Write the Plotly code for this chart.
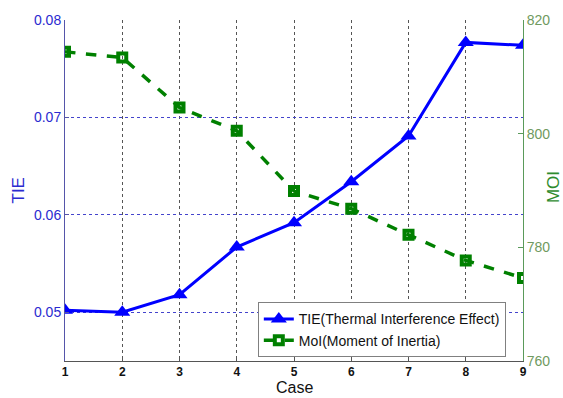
import plotly.graph_objects as go

cases = [1, 2, 3, 4, 5, 6, 7, 8, 9]
tie = [0.0502, 0.0500, 0.0518, 0.0567, 0.0592, 0.0634, 0.0681, 0.0777, 0.0774]
moi = [814.4, 813.4, 804.6, 800.5, 789.9, 786.8, 782.2, 777.7, 774.6]
tie_ticks = [0.05, 0.06, 0.07, 0.08]
moi_ticks = [760, 780, 800, 820]

FONT = "Arial, Liberation Sans, sans-serif"

fig = go.Figure()
fig.add_trace(go.Scatter(
    x=cases, y=tie, name="TIE(Thermal Interference Effect)",
    mode="lines+markers",
    line=dict(color="#0000ff", width=3),
    marker=dict(symbol="triangle-up", size=14, color="#0000ff"),
))
fig.add_trace(go.Scatter(
    x=cases, y=moi, name="MoI(Moment of Inertia)", yaxis="y2",
    mode="lines+markers",
    line=dict(color="#008000", width=3.5, dash="dash"),
    marker=dict(symbol="square-open", size=8, color="#008000",
                line=dict(color="#008000", width=4)),
))

fig.update_layout(
    width=563, height=398,
    margin=dict(l=65, r=40, t=16, b=37),
    paper_bgcolor="white", plot_bgcolor="white",
    font=dict(family=FONT),
    showlegend=True,
    legend=dict(
        x=0.421, y=0.172, xanchor="left", yanchor="top",
        bgcolor="white", bordercolor="#808080", borderwidth=1,
        font=dict(size=14, color="#111111", family=FONT),
        tracegroupgap=0,
    ),
    xaxis=dict(
        range=[1, 9], tickvals=cases, ticktext=["<b>%d</b>" % c for c in cases],
        showgrid=True, gridcolor="#555555", griddash="dot", gridwidth=1,
        showline=True, linecolor="#555555", linewidth=1,
        ticks="inside", ticklen=4, tickcolor="#555555",
        tickfont=dict(size=12, color="#111111", family=FONT),
        zeroline=False,
    ),
    yaxis=dict(
        range=[0.045, 0.08], tickvals=tie_ticks,
        ticktext=["0.05", "0.06", "0.07", "0.08"],
        showgrid=True, gridcolor="#4444cc", griddash="dot", gridwidth=1,
        showline=True, linecolor="#5555aa", linewidth=1,
        ticks="inside", ticklen=4, tickcolor="#5555aa",
        tickfont=dict(size=14, color="#2b2bd0", family=FONT),
        zeroline=False,
    ),
    yaxis2=dict(
        range=[760, 820], tickvals=moi_ticks,
        overlaying="y", side="right",
        showgrid=False,
        showline=True, linecolor="#5a9a5a", linewidth=1,
        ticks="inside", ticklen=5, tickcolor="#5a9a5a",
        tickfont=dict(size=14, color="#6f9a60", family=FONT),
        zeroline=False,
    ),
    annotations=[
        dict(text="TIE", xref="paper", yref="paper", x=0, y=0.50,
             xshift=-47, xanchor="center", yanchor="middle", showarrow=False,
             textangle=-90, font=dict(size=17, color="#2b2bd0", family=FONT)),
        dict(text="MOI", xref="paper", yref="paper", x=1, y=0.51,
             xshift=30, xanchor="center", yanchor="middle", showarrow=False,
             textangle=-90, font=dict(size=17, color="#2e8b2e", family=FONT)),
        dict(text="Case", xref="paper", yref="paper", x=0.5, y=0,
             yshift=-26, xanchor="center", yanchor="middle", showarrow=False,
             font=dict(size=16, color="#111111", family=FONT)),
    ],
)

fig.write_html("out.html")
